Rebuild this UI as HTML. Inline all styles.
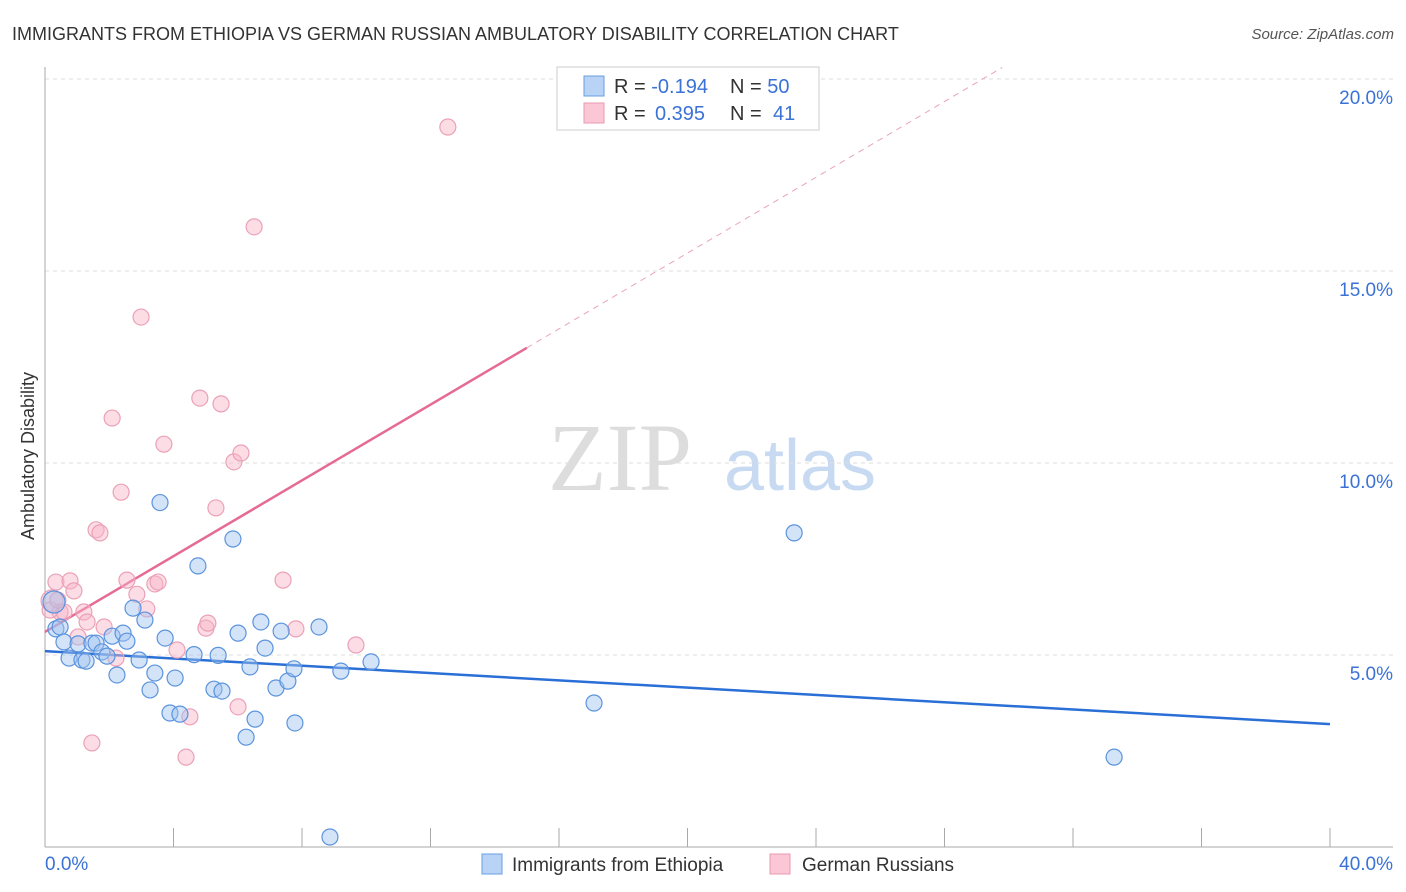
<!DOCTYPE html>
<html><head><meta charset="utf-8"><style>
body{margin:0;background:#fff;font-family:"Liberation Sans",sans-serif}
svg{display:block}
</style></head><body>
<svg width="1406" height="892" viewBox="0 0 1406 892" xmlns="http://www.w3.org/2000/svg">
<text x="12" y="40" font-size="18" fill="#333">IMMIGRANTS FROM ETHIOPIA VS GERMAN RUSSIAN AMBULATORY DISABILITY CORRELATION CHART</text>
<text x="1394" y="39" font-size="15" fill="#555" font-style="italic" text-anchor="end">Source: ZipAtlas.com</text>
<text x="620" y="490" font-size="96" fill="#ddd" font-family="Liberation Serif" text-anchor="middle">ZIP</text>
<text x="800" y="490" font-size="72" fill="#c8daf2" text-anchor="middle">atlas</text>
<g id="grid"></g>
<g id="axes"></g>
<text transform="translate(34,456) rotate(-90)" font-size="18" fill="#333" text-anchor="middle">Ambulatory Disability</text>
<g id="lines"></g>
<g id="pts"></g>
<g>
<rect x="557" y="67" width="262" height="63" fill="#fff" stroke="#ccc"/>
<rect x="584" y="76" width="20" height="20" fill="#b8d3f5" stroke="#6a9ee0"/>
<rect x="584" y="103" width="20" height="20" fill="#fbc7d6" stroke="#e89ab1"/>
<text x="614" y="93" font-size="20" fill="#333">R = <tspan fill="#3a72d6">-0.194</tspan><tspan x="730">N = </tspan><tspan fill="#3a72d6">50</tspan></text>
<text x="614" y="120" font-size="20" fill="#333">R = <tspan x="655" fill="#3a72d6">0.395</tspan><tspan x="730">N = </tspan><tspan x="773" fill="#3a72d6">41</tspan></text>
</g>
<g>
<rect x="482" y="854" width="20" height="20" fill="#b8d3f5" stroke="#6a9ee0"/>
<text x="512" y="871" font-size="19" fill="#333">Immigrants from Ethiopia</text>
<rect x="770" y="854" width="20" height="20" fill="#fbc7d6" stroke="#e89ab1"/>
<text x="802" y="871" font-size="19" fill="#333">German Russians</text>
</g>
</svg>
<script>
const xTickLabels=["0.0%","40.0%"];
const yTicks=[5,10,15,20];
const blueX=[0.28,0.34,0.47,0.59,0.75,1.03,1.15,1.28,1.46,1.59,1.77,1.93,2.09,2.24,2.43,2.55,2.74,2.93,3.11,3.27,3.42,3.58,3.74,3.89,4.05,4.20,4.64,4.76,5.26,5.39,5.51,5.85,6.01,6.26,6.38,6.54,6.72,6.85,7.19,7.35,7.56,7.75,7.78,8.53,8.87,9.21,10.15,17.09,23.32,33.28];
const blueY=[6.38,5.68,5.73,5.34,4.92,5.29,4.87,4.84,5.31,5.31,5.08,4.97,5.49,4.48,5.57,5.36,6.22,4.87,5.91,4.09,4.53,8.97,5.44,3.49,4.40,3.46,5.01,7.32,4.11,4.99,4.06,8.02,5.57,2.86,4.69,3.33,5.86,5.18,4.14,5.62,4.32,4.64,3.23,5.73,0.26,4.58,4.82,3.75,8.18,2.34];
const pinkX=[0.22,0.34,0.47,0.59,0.78,0.90,1.03,1.21,1.31,1.46,1.59,1.71,1.84,2.09,2.21,2.37,2.55,2.86,2.99,3.17,3.42,3.52,3.70,4.11,4.39,4.51,4.82,5.01,5.07,5.32,5.48,5.88,6.01,6.10,6.51,7.41,7.81,9.68,12.54,0.16,0.40];
const pinkY=[6.41,6.90,6.12,6.12,6.93,6.67,5.47,6.12,5.86,2.71,8.26,8.18,5.73,11.17,4.92,9.24,6.95,6.58,13.80,6.20,6.85,6.90,10.49,5.13,2.34,3.39,11.69,5.70,5.83,8.83,11.54,10.03,3.65,10.26,16.15,6.95,5.68,5.26,18.75,6.17,6.43];
const blueFit=[5.1,3.2];
const pinkFit=[5.6,13.0];
const X=v=>45+v*32.125, Y=v=>847-v*38.4;
const ns="http://www.w3.org/2000/svg";
function mk(p,t,a){const e=document.createElementNS(ns,t);for(const k in a)e.setAttribute(k,a[k]);p.appendChild(e);return e;}
const grid=document.getElementById('grid');
yTicks.forEach(v=>{
 const l=mk(grid,'line',{x1:45,x2:1393,y1:Y(v),y2:Y(v),stroke:'#ddd','stroke-dasharray':'4,4'});
 
 
 const t=mk(grid,'text',{x:1393,y:Y(v)+25,'font-size':19,fill:'#3a72d6','text-anchor':'end'});
 t.textContent=v.toFixed(1)+'%';
 
 
});
const ax=document.getElementById('axes');
const la=mk(ax,'line',{x1:45,x2:45,y1:67,y2:847,stroke:'#aaa'});


const ba=mk(ax,'line',{x1:45,x2:1393,y1:847,y2:847,stroke:'#aaa'});


for(let i=0;i<=10;i++){const tk=mk(ax,'line',{x1:X(i*4),x2:X(i*4),y1:828,y2:847,stroke:'#aaa'});
 
 }
[[0,'start'],[40,'end']].forEach((d,i)=>{const t=mk(ax,'text',{x:i?1393:45,y:870,'font-size':19,fill:'#3a72d6','text-anchor':d[1]});
 t.textContent=xTickLabels[i];
 
 });
const pts=document.getElementById('pts');
pinkX.forEach((x,i)=>{const c=mk(pts,'circle',{cx:X(x),cy:Y(pinkY[i]),r:i==0?11:8,fill:'rgba(248,180,200,0.45)',stroke:'#eba1b7','stroke-width':1.2});
 
 });
blueX.forEach((x,i)=>{const c=mk(pts,'circle',{cx:X(x),cy:Y(blueY[i]),r:i==0?11:8,fill:'rgba(160,196,240,0.45)',stroke:'#5b93dd','stroke-width':1.2});
 
 });
const ln=document.getElementById('lines');
const bl=mk(ln,'line',{x1:X(0),y1:Y(blueFit[0]),x2:X(40),y2:Y(blueFit[1]),stroke:'#2a6fd6','stroke-width':2.5});


const slope=(pinkFit[1]-pinkFit[0])/15;
const pl=mk(ln,'line',{x1:X(0),y1:Y(pinkFit[0]),x2:X(15),y2:Y(pinkFit[1]),stroke:'#e56a95','stroke-width':2.5});


const xe=(20.3-pinkFit[0])/slope;
const pd=mk(ln,'line',{x1:X(15),y1:Y(pinkFit[1]),x2:X(xe),y2:Y(20.3),stroke:'#e9a3bb','stroke-width':1,'stroke-dasharray':'6,5'});


</script>
</body></html>
